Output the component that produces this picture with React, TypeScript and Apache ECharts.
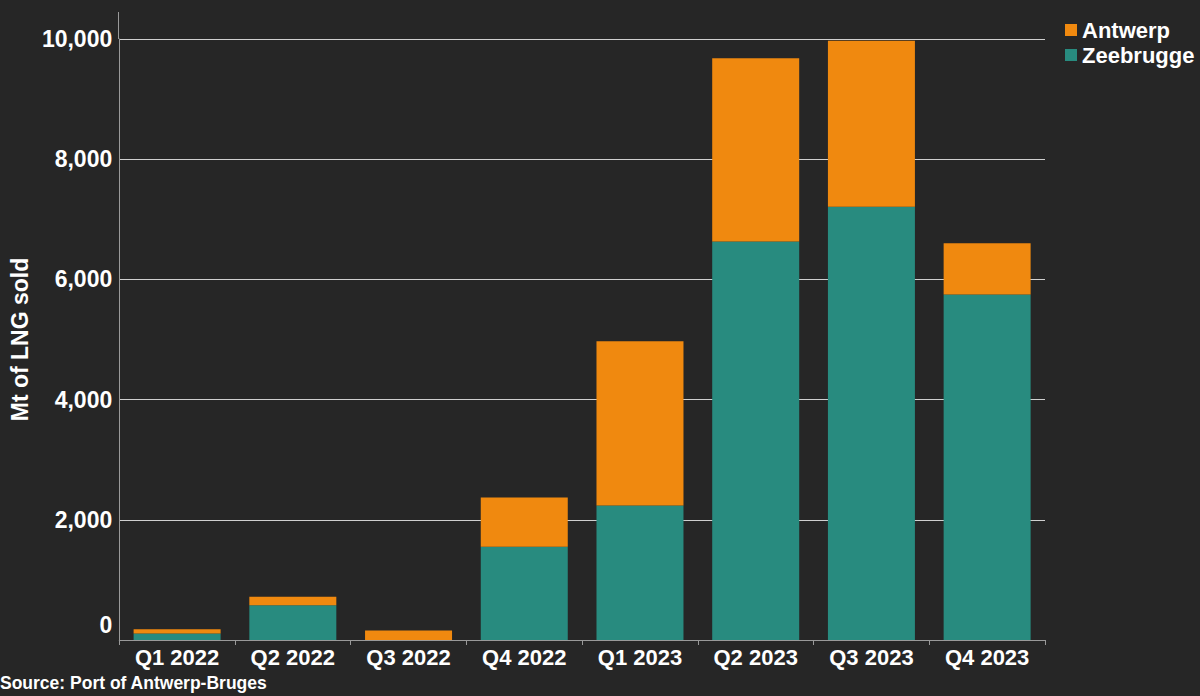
import React, { useEffect, useRef } from "react";
import * as echarts from "echarts";

const categories = ["Q1 2022", "Q2 2022", "Q3 2022", "Q4 2022", "Q1 2023", "Q2 2023", "Q3 2023", "Q4 2023"];
const zeebrugge = [110, 580, 0, 1550, 2240, 6630, 7210, 5750];
const antwerp = [70, 140, 160, 820, 2730, 3050, 2760, 850];
const yTicks = [0, 2000, 4000, 6000, 8000, 10000];

const FONT = "'Liberation Sans', Arial, sans-serif";
const BG = "#262626";
const ORANGE = "#F0890F";
const TEAL = "#288B7F";

export default function App() {
  const ref = useRef<HTMLDivElement>(null);
  useEffect(() => {
    if (!ref.current) return;
    const chart = echarts.init(ref.current, null, { renderer: "svg" });
    chart.setOption({
      animation: false,
      backgroundColor: BG,
      textStyle: { fontFamily: FONT },
      grid: { left: 118, right: 155, top: 39, bottom: 56 },
      legend: {
        data: ["Antwerp", "Zeebrugge"],
        orient: "vertical",
        left: 1060,
        top: 14,
        icon: "rect",
        itemWidth: 12,
        itemHeight: 12,
        itemGap: 3,
        itemTextGap: 9,
        textStyle: { color: "#ffffff", fontSize: 22, fontWeight: "bold", fontFamily: FONT },
      },
      xAxis: {
        type: "category",
        data: categories,
        axisLine: { show: true, lineStyle: { color: "#999999", width: 1 } },
        axisTick: { show: true, length: 5, lineStyle: { color: "#999999" } },
        axisLabel: { color: "#ffffff", fontSize: 22, fontWeight: "bold", fontFamily: FONT, margin: 6 },
      },
      yAxis: {
        type: "value",
        min: 0,
        max: yTicks[yTicks.length - 1],
        interval: 2000,
        name: "Mt of LNG sold",
        nameLocation: "middle",
        nameGap: 88,
        nameTextStyle: { color: "#ffffff", fontSize: 23, fontWeight: "bold", fontFamily: FONT },
        axisLine: { show: true, lineStyle: { color: "#999999", width: 1 } },
        axisTick: { show: false },
        splitLine: { show: true, lineStyle: { color: "#d0d0d0", width: 1 } },
        axisLabel: {
          color: "#ffffff",
          fontSize: 23,
          fontWeight: "bold",
          fontFamily: FONT,
          margin: 7,
          formatter: (v: number) => (v === 0 ? "{zero|0}" : v.toLocaleString("en-US")),
          rich: {
            zero: { color: "#ffffff", fontSize: 23, fontWeight: "bold", fontFamily: FONT, padding: [0, 0, 30, 0] },
          },
        },
      },
      series: [
        {
          name: "Zeebrugge",
          type: "bar",
          stack: "total",
          data: zeebrugge,
          barWidth: 87,
          itemStyle: { color: TEAL },
        },
        {
          name: "Antwerp",
          type: "bar",
          stack: "total",
          data: antwerp,
          barWidth: 87,
          itemStyle: { color: ORANGE },
        },
      ],
      graphic: [
        {
          type: "line",
          shape: { x1: 118.5, y1: 12, x2: 118.5, y2: 39 },
          style: { stroke: "#999999", lineWidth: 1 },
        },
        {
          type: "text",
          left: 0,
          top: 674,
          style: { text: "Source: Port of Antwerp-Bruges", fill: "#ffffff", fontSize: 17.5, fontWeight: "bold", fontFamily: FONT },
        },
      ],
    });
    return () => chart.dispose();
  }, []);
  return <div ref={ref} style={{ position: "fixed", left: 0, top: 0, width: 1200, height: 696 }} />;
}
